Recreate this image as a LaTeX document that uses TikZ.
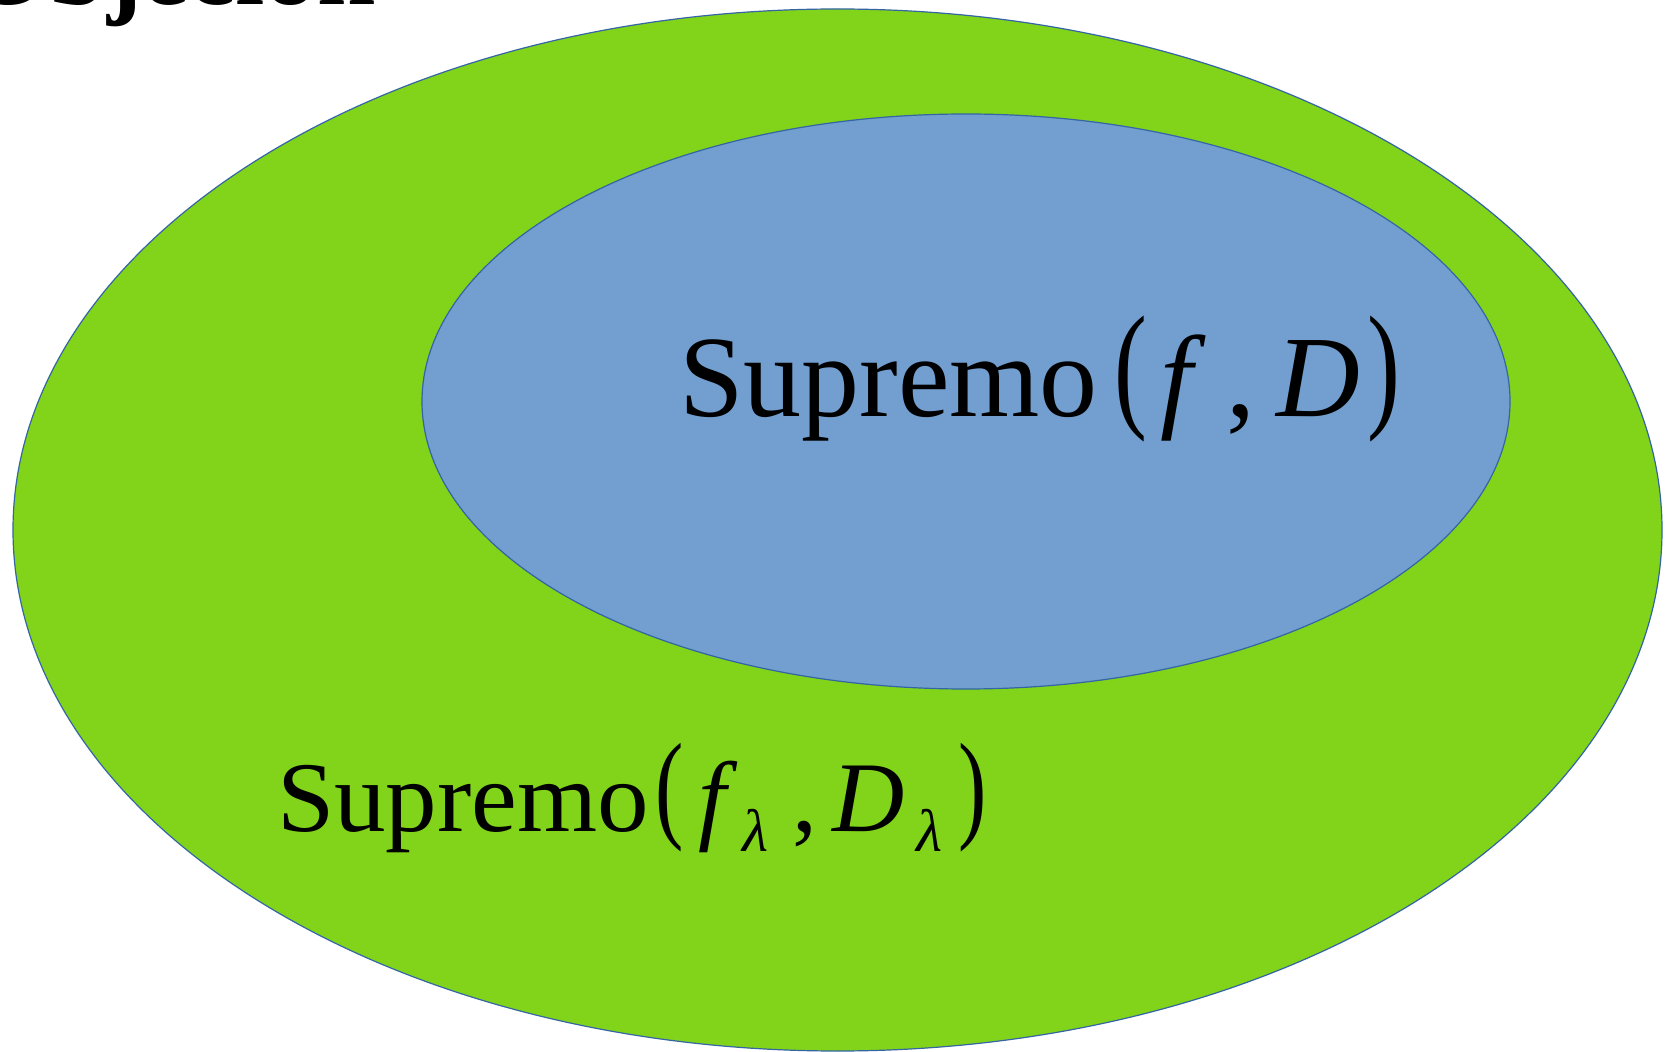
\documentclass[tikz,border=0pt]{standalone}
\usepackage{fontspec}
\setmainfont{Liberation Serif}
\definecolor{outergreen}{HTML}{81D41A}
\definecolor{innerblue}{HTML}{729FCF}
\definecolor{edgeblue}{HTML}{3465A4}
\tikzset{
  setshape/.style={draw=edgeblue, line width=0.6pt},
  piece/.style={inner sep=0pt, outer sep=0pt, anchor=base west},
}
\begin{document}
\begin{tikzpicture}[x=0.5pt,y=-0.5pt]
\useasboundingbox (0,0) rectangle (1675,1052);
\fill[white] (0,0) rectangle (1675,1052);
% sets
\draw[setshape, fill=outergreen] (837.5,530) ellipse [x radius=824.5, y radius=521];
\draw[setshape, fill=innerblue] (966,401.5) ellipse [x radius=544, y radius=287.5];
% title cut off at top
\node[inner sep=0pt, anchor=base east, font=\fontsize{52.5pt}{60pt}\selectfont\bfseries] (title) at (376,5) {Objeción};
% inner label
\node[piece, font=\fontsize{58pt}{66pt}\selectfont] (a1) at (679,417) {Supremo};
\node[inner sep=0pt, font=\fontsize{58pt}{66pt}\selectfont] (a2) at (1131,379) {\scalebox{0.85}[1.2]{(}};
\node[piece, font=\fontsize{58pt}{66pt}\selectfont\itshape] (a3) at (1160,417) {f};
\node[piece, font=\fontsize{58pt}{66pt}\selectfont] (a4) at (1226,417) {,};
\node[piece, font=\fontsize{58pt}{66pt}\selectfont\itshape] (a5) at (1276,417) {D};
\node[inner sep=0pt, font=\fontsize{58pt}{66pt}\selectfont] (a6) at (1384,379) {\scalebox{0.85}[1.2]{)}};
% outer label
\node[piece, font=\fontsize{50pt}{58pt}\selectfont] (b1) at (277,831) {\scalebox{1.03}[1]{Supremo}};
\node[inner sep=0pt, font=\fontsize{50pt}{58pt}\selectfont] (b2) at (670,798) {\scalebox{0.85}[1.2]{(}};
\node[piece, font=\fontsize{50pt}{58pt}\selectfont\itshape] (b3) at (698,831) {f};
\node[piece, font=\fontsize{30pt}{36pt}\selectfont\itshape] (b4) at (742,851) {λ};
\node[piece, font=\fontsize{50pt}{58pt}\selectfont] (b5) at (792,831) {,};
\node[piece, font=\fontsize{50pt}{58pt}\selectfont\itshape] (b6) at (832,831) {D};
\node[piece, font=\fontsize{30pt}{36pt}\selectfont\itshape] (b7) at (916,851) {λ};
\node[inner sep=0pt, font=\fontsize{50pt}{58pt}\selectfont] (b8) at (973,798) {\scalebox{0.85}[1.2]{)}};
\end{tikzpicture}
\end{document}
